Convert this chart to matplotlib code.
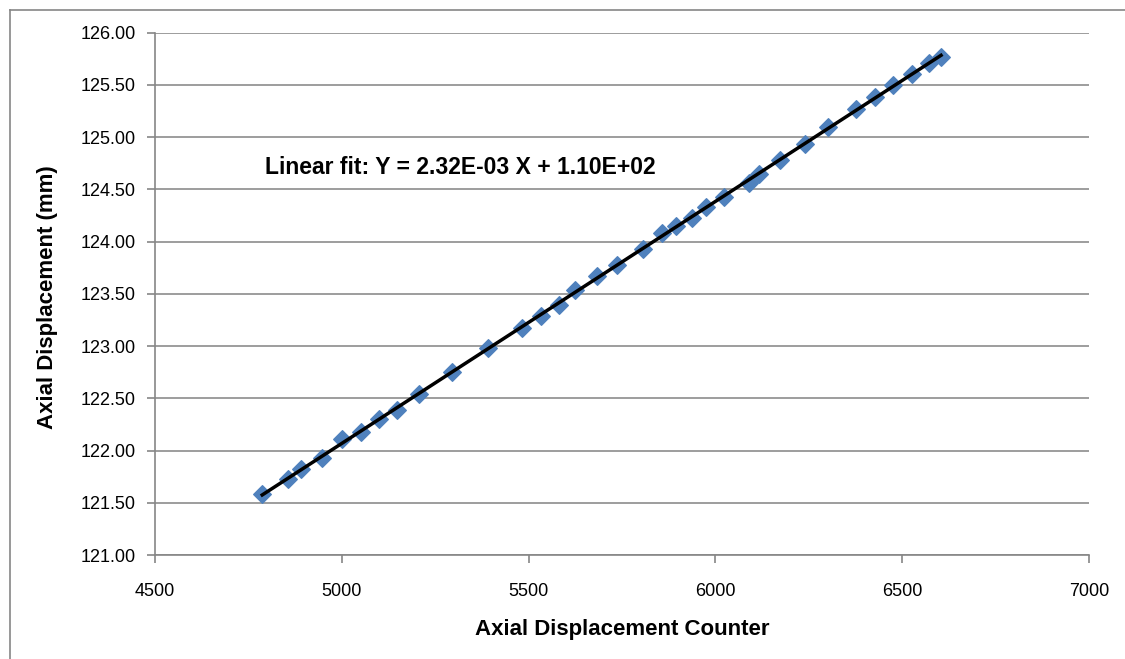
import numpy as np
import matplotlib
matplotlib.use("Agg")
import matplotlib.pyplot as plt
from matplotlib.lines import Line2D

counter = [4787, 4857, 4891, 4946, 5000, 5051, 5100, 5147, 5207, 5295, 5392,
           5483, 5532, 5582, 5624, 5682, 5736, 5805, 5856, 5895, 5937, 5975,
           6023, 6090, 6117, 6173, 6240, 6302, 6376, 6427, 6476, 6527, 6572, 6604]
displacement = [121.58, 121.73, 121.82, 121.93, 122.11, 122.18, 122.30, 122.39,
                122.54, 122.75, 122.98, 123.17, 123.29, 123.39, 123.54, 123.67,
                123.78, 123.93, 124.08, 124.15, 124.23, 124.33, 124.43, 124.56,
                124.65, 124.78, 124.93, 125.10, 125.27, 125.38, 125.50, 125.60,
                125.71, 125.77]
x_ticks = [4500, 5000, 5500, 6000, 6500, 7000]
y_ticks = [121.0, 121.5, 122.0, 122.5, 123.0, 123.5, 124.0, 124.5, 125.0, 125.5, 126.0]
fit_label = "Linear fit: Y = 2.32E-03 X + 1.10E+02"

plt.rcParams['font.family'] = ['Liberation Sans', 'DejaVu Sans']

W, H = 1125, 659
fig = plt.figure(figsize=(W / 100, H / 100), dpi=100)
ax = fig.add_axes([155 / W, 1 - 555 / H, (1089 - 155) / W, (555 - 32.7) / H])

ax.scatter(counter, displacement, marker='D', s=80, color='#4f81bd',
           edgecolors='#4f81bd', zorder=3)
coef = np.polyfit(counter, displacement, 1)
xs = np.array([min(counter), max(counter)])
ax.plot(xs, np.polyval(coef, xs), color='black', lw=2.5, zorder=4)

ax.set_xlim(4500, 7000)
ax.set_ylim(121, 126)
ax.set_xticks(x_ticks)
ax.set_yticks(y_ticks)
ax.set_xticklabels([str(v) for v in x_ticks])
ax.set_yticklabels([f"{v:.2f}" for v in y_ticks])
ax.tick_params(axis='both', labelsize=13, color='#868686', length=6, width=1.2,
               direction='out', pad=8)
ax.tick_params(axis='x', pad=14)
ax.grid(axis='y', color='#8c8c8c', lw=1.2)
ax.set_axisbelow(True)
for s in ['top', 'right']:
    ax.spines[s].set_visible(False)
for s in ['left', 'bottom']:
    ax.spines[s].set_color('#868686')
    ax.spines[s].set_linewidth(1.2)

ax.text(4794, 124.71, fit_label, fontsize=16.5, fontweight='bold',
        va='center', ha='left')

fig.text(622 / W, 1 - 630 / H, "Axial Displacement Counter", fontsize=16,
         fontweight='bold', ha='center', va='center')
fig.text(48 / W, 1 - 297 / H, "Axial Displacement (mm)", fontsize=16,
         fontweight='bold', ha='center', va='center', rotation=90)

fig.add_artist(Line2D([10 / W, 1], [1 - 10 / H, 1 - 10 / H], color='#868686',
                      lw=1.2, transform=fig.transFigure))
fig.add_artist(Line2D([10 / W, 10 / W], [1 - 10 / H, 0], color='#868686',
                      lw=1.2, transform=fig.transFigure))

fig.savefig("out.png", dpi=100)
